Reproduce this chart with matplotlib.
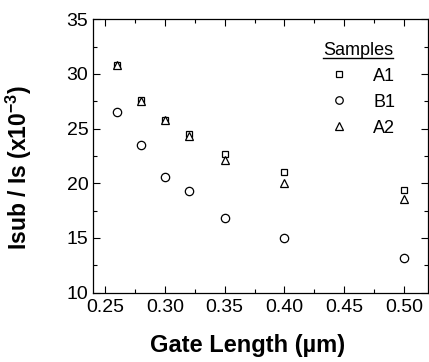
import matplotlib
matplotlib.use("Agg")
import matplotlib.pyplot as plt
from matplotlib.ticker import MultipleLocator
from matplotlib.lines import Line2D

plt.rcParams['font.family'] = ['Liberation Sans', 'DejaVu Sans']
plt.rcParams['mathtext.fontset'] = 'custom'
plt.rcParams['mathtext.rm'] = 'Liberation Sans'
plt.rcParams['mathtext.bf'] = 'Liberation Sans:bold'

gate_length = [0.26, 0.28, 0.30, 0.32, 0.35, 0.40, 0.50]
a1 = [30.8, 27.6, 25.8, 24.5, 22.7, 21.0, 19.4]
b1 = [26.5, 23.5, 20.6, 19.3, 16.8, 15.0, 13.2]
a2 = [30.8, 27.5, 25.8, 24.3, 22.1, 20.0, 18.6]
xticks = [0.25, 0.30, 0.35, 0.40, 0.45, 0.50]
yticks = [10, 15, 20, 25, 30, 35]

W, H = 429, 362
L, R, T, B = 93.3, 427.7, 19.3, 292.5
fig = plt.figure(figsize=(W/100, H/100), dpi=100)
ax = fig.add_axes([L/W, 1 - B/H, (R - L)/W, (B - T)/H])

mk = dict(linestyle='none', markerfacecolor='white', markeredgecolor='black',
          markeredgewidth=0.9, color='black')
ax.plot(gate_length, a1, marker='s', markersize=5, label='A1', **mk)
ax.plot(gate_length, b1, marker='o', markersize=6, label='B1', **mk)
ax.plot(gate_length, a2, marker='^', markersize=6, label='A2', **mk)

ax.set_xlim(0.24, 0.52)
ax.set_ylim(10, 35)
ax.set_xticks(xticks)
ax.set_xticklabels([f"{t:.2f}" for t in xticks])
ax.set_yticks(yticks)
ax.xaxis.set_minor_locator(MultipleLocator(0.025))
ax.yaxis.set_minor_locator(MultipleLocator(2.5))
ax.tick_params(which='both', direction='in', top=True, right=True, labelsize=14)
ax.tick_params(which='major', length=5, width=0.8)
ax.tick_params(which='minor', length=3, width=0.8)
ax.tick_params(axis='x', pad=5)
for s in ax.spines.values():
    s.set_linewidth(0.9)

ax.set_xlabel('Gate Length (\u00b5m)', fontsize=17, fontweight='bold')
ax.set_ylabel(r'Isub / Is (x10$^{\mathbf{-3}}$)', fontsize=16.5, fontweight='bold')
ax.xaxis.set_label_coords((248 - L)/(R - L), (B - 334)/(B - T))
ax.yaxis.set_label_coords((34 - L)/(R - L), (B - 167.5)/(B - T))

leg = ax.legend(title='Samples', frameon=False, fontsize=13,
                title_fontsize=13, loc='upper right', bbox_to_anchor=(0.925, 0.945),
                handletextpad=0.9, labelspacing=0.5, borderaxespad=0.2, markerscale=0.9,
                borderpad=0.2)

fig.canvas.draw()
bb = leg.get_title().get_window_extent(fig.canvas.get_renderer())
inv = fig.transFigure.inverted()
(x0, y0) = inv.transform((bb.x0, bb.y0 + 1))
(x1, _) = inv.transform((bb.x1, bb.y0 + 1))
fig.add_artist(Line2D([x0, x1], [y0, y0], color='black', linewidth=1.0, transform=fig.transFigure))

fig.savefig('out.png', dpi=100)
